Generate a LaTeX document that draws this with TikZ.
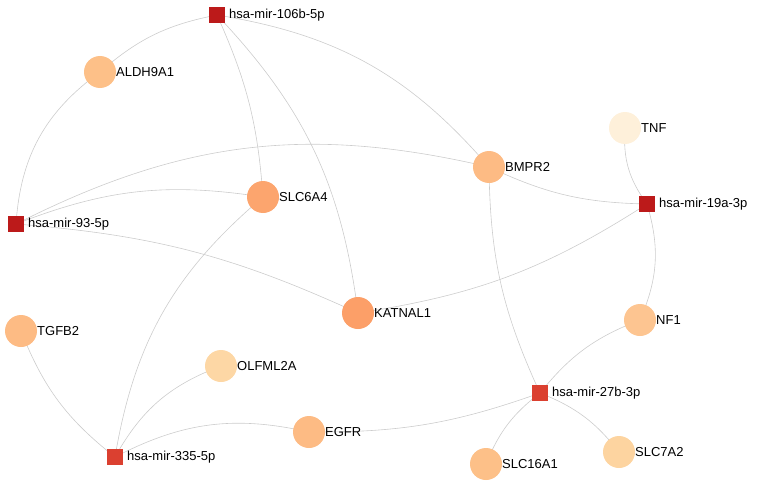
\documentclass[tikz,border=0pt]{standalone}
\usepackage{fontspec}
\setmainfont{Liberation Sans}
\begin{document}
\begin{tikzpicture}[x=1pt,y=-1pt,
 g/.style={circle,minimum size=32pt,inner sep=0pt,draw=none},
 m/.style={rectangle,minimum size=16pt,inner sep=0pt,draw=none},
 lab/.style={font=\fontsize{13}{13}\selectfont,anchor=west,inner sep=0pt},
 e/.style={draw=black!20,line width=0.6pt}]
\definecolor{dr}{HTML}{BC1A1A}\definecolor{lr}{HTML}{DB4030}
\useasboundingbox (0,0) rectangle (760,487);
\path[e] (217,15) edge[bend right=15] (100,72)
 (217,15) edge[bend left=10] (263,197)
 (217,15) edge[bend left=18] (358,313)
 (217,15) edge[bend left=20] (489,167)
 (100,72) edge[bend right=25] (16,224)
 (16,224) edge[bend left=20] (489,167)
 (16,224) edge[bend left=15] (263,197)
 (16,224) edge[bend left=10] (358,313)
 (489,167) edge[bend right=12] (647,204)
 (625,128) edge[bend right=20] (647,204)
 (647,204) edge[bend left=12] (358,313)
 (647,204) edge[bend left=20] (640,320)
 (489,167) edge[bend right=12] (540,393)
 (640,320) edge[bend right=15] (540,393)
 (540,393) edge[bend right=15] (486,464)
 (540,393) edge[bend left=15] (619,452)
 (540,393) edge[bend left=10] (309,432)
 (263,197) edge[bend right=20] (115,457)
 (21,331) edge[bend right=15] (115,457)
 (221,366) edge[bend right=20] (115,457)
 (309,432) edge[bend right=20] (115,457);
\node[m,fill=dr] (a) at (217,15) {}; \node[lab] at (229,15) {hsa-mir-106b-5p};
\node[m,fill=dr] (b) at (16,224) {}; \node[lab] at (28,224) {hsa-mir-93-5p};
\node[m,fill=dr] (c) at (647,204) {}; \node[lab] at (659,204) {hsa-mir-19a-3p};
\node[m,fill=lr] (d) at (540,393) {}; \node[lab] at (552,393) {hsa-mir-27b-3p};
\node[m,fill=lr] (f) at (115,457) {}; \node[lab] at (127,457) {hsa-mir-335-5p};
\node[g,fill={rgb,255:red,253;green,192;blue,136}] (aldh) at (100,72) {}; \node[lab] at (116,72) {ALDH9A1};
\node[g,fill={rgb,255:red,254;green,240;blue,218}] (tnf) at (625,128) {}; \node[lab] at (641,128) {TNF};
\node[g,fill={rgb,255:red,253;green,187;blue,132}] (bmpr) at (489,167) {}; \node[lab] at (505,167) {BMPR2};
\node[g,fill={rgb,255:red,252;green,165;blue,110}] (slc6) at (263,197) {}; \node[lab] at (279,197) {SLC6A4};
\node[g,fill={rgb,255:red,252;green,159;blue,104}] (kat) at (358,313) {}; \node[lab] at (374,313) {KATNAL1};
\node[g,fill={rgb,255:red,253;green,197;blue,145}] (nf1) at (640,320) {}; \node[lab] at (656,320) {NF1};
\node[g,fill={rgb,255:red,253;green,187;blue,132}] (tgf) at (21,331) {}; \node[lab] at (37,331) {TGFB2};
\node[g,fill={rgb,255:red,253;green,215;blue,165}] (olf) at (221,366) {}; \node[lab] at (237,366) {OLFML2A};
\node[g,fill={rgb,255:red,253;green,187;blue,132}] (egfr) at (309,432) {}; \node[lab] at (325,432) {EGFR};
\node[g,fill={rgb,255:red,253;green,192;blue,136}] (s16) at (486,464) {}; \node[lab] at (502,464) {SLC16A1};
\node[g,fill={rgb,255:red,253;green,212;blue,160}] (s7) at (619,452) {}; \node[lab] at (635,452) {SLC7A2};
\end{tikzpicture}
\end{document}
